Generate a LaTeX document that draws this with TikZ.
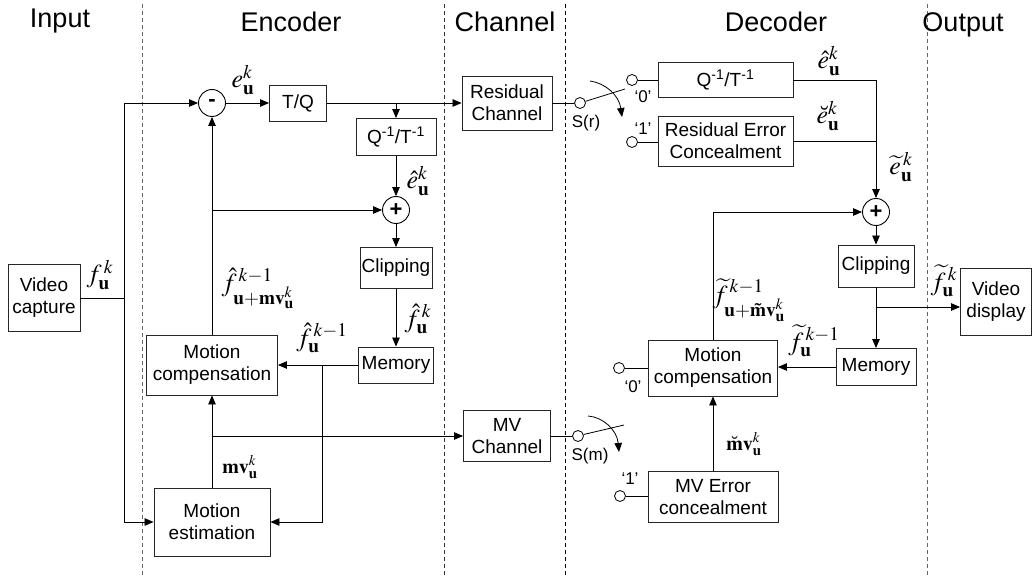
\documentclass[tikz,border=0pt]{standalone}
\usepackage{mathptmx}
\usepackage[no-math]{fontspec}
\newfontfamily\arial{Liberation Sans}
\usetikzlibrary{arrows.meta}
\begin{document}
\begin{tikzpicture}[x=1pt,y=-1pt,
 box/.style={draw=black!85, line width=0.9pt, inner sep=0pt, align=center, font=\arial\fontsize{19}{22}\selectfont},
 sumc/.style={circle, draw=black, line width=0.9pt, minimum size=27pt, inner sep=0pt, font=\arial\bfseries\fontsize{22}{22}\selectfont},
 term/.style={circle, draw=black, line width=0.8pt, minimum size=11pt, inner sep=0pt, fill=white},
 conn/.style={line width=0.8pt},
 arr/.style={conn, -{Triangle[length=9pt,width=7.5pt]}},
 ttl/.style={anchor=base, inner sep=0pt, font=\arial\fontsize{27}{30}\selectfont},
 sml/.style={font=\arial\fontsize{17}{20}\selectfont, inner sep=0pt},
 lab/.style={inner sep=0pt, font=\fontsize{26}{28}\selectfont},
 labs/.style={inner sep=0pt, font=\fontsize{20}{22}\selectfont},
 sep/.style={line width=0.8pt, dash pattern=on 4pt off 3pt}
]
\useasboundingbox (0,0) rectangle (1032,577);
% separators
\draw[sep, black!60] (142,4) -- (142,577);
\draw[sep, black!80] (444,4) -- (444,577);
\draw[sep] (565,4) -- (565,577);
\draw[sep, black!60] (927,4) -- (927,577);
% titles
\node[ttl] (tin) at (60,28) {Input};
\node[ttl] (tenc) at (291,32) {Encoder};
\node[ttl] (tch) at (505,32) {Channel};
\node[ttl] (tdec) at (776,32) {Decoder};
\node[ttl] (tout) at (963,32) {Output};
% encoder nodes
\node[box, minimum width=72pt, minimum height=67pt] (vc) at (44,298) {Video\\capture};
\node[sumc] (sub) at (212,103) {-};
\node[box, minimum width=57pt, minimum height=36pt] (tq) at (298,103) {T/Q};
\node[box, minimum width=90pt, minimum height=54pt] (rc) at (507,103) {Residual\\Channel};
\node[box, minimum width=80pt, minimum height=37pt] (iq) at (396,137) {Q\textsuperscript{-1}/T\textsuperscript{-1}};
\node[sumc] (add) at (396,210) {+};
\node[box, minimum width=72pt, minimum height=41pt] (clip) at (396,268) {Clipping};
\node[box, minimum width=75pt, minimum height=36pt] (mem) at (396,365) {Memory};
\node[box, minimum width=131pt, minimum height=60pt] (mc) at (212,365) {Motion\\compensation};
\node[box, minimum width=116pt, minimum height=68pt] (me) at (212,522) {Motion\\estimation};
\node[box, minimum width=87pt, minimum height=51pt] (mvc) at (507,436) {MV\\Channel};
% encoder connectors
\coordinate (spl) at (124,298);
\draw[conn] (vc.east) -- (spl);
\draw[arr] (spl) |- (sub.west);
\draw[arr] (spl) |- (me.west);
\draw[arr] (sub.east) -- (tq.west);
\draw[arr] (tq.east) -- (rc.west);
\coordinate (b1) at (tq.east -| iq.north);
\draw[arr] (b1) -- (iq.north);
\draw[arr] (iq.south) -- (add.north);
\draw[arr] (mc.north) -- (sub.south);
\coordinate (b2) at (mc.north |- add.west);
\draw[arr] (b2) -- (add.west);
\draw[arr] (add.south) -- (clip.north);
\draw[arr] (clip.south) -- (mem.north);
\draw[arr] (mem.west) -- (mc.east);
\coordinate (b3) at (322,365);
\draw[arr] (b3) |- (me.east);
\draw[arr] (me.north) -- (mc.south);
\coordinate (b4) at (me.north |- mvc.west);
\draw[arr] (b4) -- (mvc.west);
% encoder labels
\node[lab] (lf) at (100,275) {$f_{\mathbf{u}}^{\,k}$};
\node[lab] (le) at (243,80) {$e_{\mathbf{u}}^{k}$};
\node[lab] (lhe) at (418,181) {$\hat{e}_{\mathbf{u}}^{k}$};
\node[lab] (lfmv) at (258,288) {$\hat{f}_{\mathbf{u+mv}_{\mathbf{u}}^{k}}^{\,k-1}$};
\node[lab] (lhf) at (418,319) {$\hat{f}_{\mathbf{u}}^{\,k}$};
\node[lab] (lhf1) at (322,338) {$\hat{f}_{\mathbf{u}}^{\,k-1}$};
\node[labs] (lmv) at (240,467) {$\mathbf{mv}_{\mathbf{u}}^{k}$};
% switches
\node[term] (sr) at (580,103) {};
\draw[conn] (rc.east) -- (sr.west);
\coordinate (sra) at (625,89);
\draw[conn] (sr.17) -- (sra);
\coordinate (cr1) at (590,81);
\coordinate (cr2) at (622,117);
\draw[arr] (cr1) .. controls (605,83) and (619,95) .. (cr2);
\node[sml] (lsr) at (586,123) {S(r)};
\node[term] (sm) at (578,436) {};
\draw[conn] (mvc.east) -- (sm.west);
\coordinate (sma) at (624,425);
\draw[conn] (sm.15) -- (sma);
\coordinate (cm1) at (588,416);
\coordinate (cm2) at (619,452);
\draw[arr] (cm1) .. controls (603,417) and (617,430) .. (cm2);
\node[sml] (lsm) at (590,456) {S(m)};
% decoder nodes
\node[box, minimum width=135pt, minimum height=35pt] (diq) at (725.5,80) {Q\textsuperscript{-1}/T\textsuperscript{-1}};
\node[box, minimum width=135pt, minimum height=50pt] (rec) at (725.5,141) {Residual Error\\Concealment};
\node[term] (t0r) at (632,80) {};
\node[term] (t1r) at (632,142) {};
\draw[conn] (t0r.east) -- (diq.west);
\draw[conn] (t1r.east) -- (t1r.east -| rec.west);
\node[sml] (l0r) at (643,97) {‘0’};
\node[sml] (l1r) at (643,129) {‘1’};
\node[sumc] (dadd) at (876,212) {+};
\node[box, minimum width=76pt, minimum height=42pt] (dclip) at (876,266) {Clipping};
\node[box, minimum width=80pt, minimum height=37pt] (dmem) at (876,367) {Memory};
\node[box, minimum width=129pt, minimum height=56pt] (dmc) at (713,368) {Motion\\compensation};
\node[box, minimum width=130pt, minimum height=51pt] (dmec) at (713,497) {MV Error\\concealment};
\node[box, minimum width=71pt, minimum height=67pt] (vd) at (996,302) {Video\\display};
\node[term] (t0m) at (619,368) {};
\node[term] (t1m) at (620,496) {};
\draw[conn] (t0m.east) -- (dmc.west);
\draw[conn] (t1m.east) -- (t1m.east -| dmec.west);
\node[sml] (l0m) at (633,387) {‘0’};
\node[sml] (l1m) at (630,479) {‘1’};
% decoder connectors
\draw[arr] (diq.east) -| (dadd.north);
\draw[conn] (rec.east) -- (rec.east -| dadd.north);
\draw[arr] (dadd.south) -- (dclip.north);
\draw[arr] (dclip.south) -- (dmem.north);
\coordinate (b5) at (876,307);
\draw[arr] (b5) -- (b5 -| vd.west);
\draw[arr] (dmem.west) -- (dmem.west -| dmc.east);
\draw[arr] (dmc.north) |- (dadd.west);
\draw[arr] (dmec.north) -- (dmc.south);
% decoder labels
\node[lab] (lde) at (829,61) {$\hat{e}_{\mathbf{u}}^{k}$};
\node[lab] (lbe) at (828,116) {$\breve{e}_{\mathbf{u}}^{k}$};
\node[lab] (lte) at (901,167) {$\widetilde{e}_{\mathbf{u}}^{\,k}$};
\node[lab] (ltfmv) at (749,300) {$\widetilde{f}_{\mathbf{u+\tilde{m}v}_{\mathbf{u}}^{k}}^{\,k-1}$};
\node[lab] (ltf) at (944,281) {$\widetilde{f}_{\mathbf{u}}^{\,k}$};
\node[lab] (ltf1) at (814,341) {$\widetilde{f}_{\mathbf{u}}^{\,k-1}$};
\node[labs] (lbmv) at (744,444) {$\breve{\mathbf{m}}\mathbf{v}_{\mathbf{u}}^{k}$};
\end{tikzpicture}
\end{document}
